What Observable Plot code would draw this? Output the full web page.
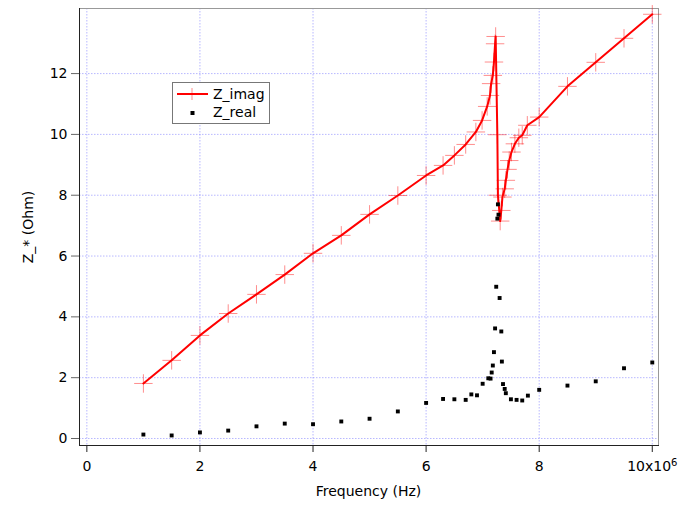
<!DOCTYPE html>
<html>
<head>
<meta charset="utf-8">
<script src="https://cdn.jsdelivr.net/npm/d3@7"></script>
<script src="https://cdn.jsdelivr.net/npm/@observablehq/plot@0.6"></script>
<style>
  html, body { margin: 0; padding: 0; background: white; }
  #chart { width: 678px; height: 506px; }
</style>
</head>
<body>
<div id="chart"></div>
<script>
// Frequencies in units of 10^6 Hz
const imagFreq = [1, 1.5, 2, 2.5, 3, 3.5, 4, 4.5, 5, 5.5, 6, 6.3, 6.5, 6.7, 6.88, 6.99, 7.08, 7.13, 7.15, 7.18, 7.2, 7.22, 7.23, 7.26, 7.27, 7.31, 7.33, 7.35, 7.39, 7.41, 7.44, 7.47, 7.51, 7.57, 7.64, 7.7, 7.79, 8.0, 8.5, 9, 9.5, 10];
const imagVal  = [1.81, 2.57, 3.39, 4.11, 4.74, 5.39, 6.09, 6.68, 7.37, 7.99, 8.65, 8.98, 9.31, 9.67, 10.08, 10.46, 10.92, 11.28, 11.67, 11.94, 12.38, 12.98, 13.22, 9.99, 8.0, 7.15, 7.5, 7.94, 8.21, 8.49, 8.85, 9.14, 9.42, 9.69, 9.89, 9.97, 10.3, 10.57, 11.58, 12.37, 13.16, 13.95];

const realFreq = [1, 1.5, 2, 2.5, 3, 3.5, 4, 4.5, 5, 5.5, 6, 6.3, 6.5, 6.7, 6.8, 6.9, 7.0, 7.1, 7.14, 7.16, 7.18, 7.2, 7.22, 7.24, 7.26, 7.27, 7.28, 7.3, 7.33, 7.34, 7.36, 7.39, 7.41, 7.5, 7.6, 7.7, 7.8, 8, 8.5, 9, 9.5, 10];
const realVal  = [0.13, 0.10, 0.20, 0.26, 0.40, 0.49, 0.47, 0.56, 0.65, 0.89, 1.17, 1.30, 1.29, 1.27, 1.45, 1.42, 1.80, 1.98, 1.97, 2.17, 2.40, 2.84, 3.62, 4.99, 7.23, 7.7, 7.36, 4.62, 3.52, 2.53, 1.79, 1.63, 1.49, 1.29, 1.27, 1.25, 1.41, 1.60, 1.74, 1.88, 2.31, 2.50];

const xTicks = [0, 2, 4, 6, 8, 10];
const yTicks = [0, 2, 4, 6, 8, 10, 12];
const seriesNames = ["Z_imag", "Z_real"];
const xLabel = "Frequency (Hz)";
const yLabel = "Z_* (Ohm)";

const imag = imagFreq.map((f, i) => ({f, v: imagVal[i]}));
const real = realFreq.map((f, i) => ({f, v: realVal[i]}));

const gridStyle = {stroke: "#8888ff", strokeOpacity: 0.6, strokeDasharray: "1.5,1.5", strokeWidth: 1};

const chart = Plot.plot({
  width: 678,
  height: 506,
  marginLeft: 79,
  marginRight: 20,
  marginTop: 8,
  marginBottom: 61,
  style: {fontFamily: "DejaVu Sans", fontSize: "14px", color: "black", background: "white"},
  x: {domain: [-0.13, 10.11]},
  y: {domain: [-0.23, 14.14]},
  marks: [
    Plot.gridX(xTicks, gridStyle),
    Plot.gridY(yTicks, gridStyle),
    Plot.frame({stroke: "#999"}),
    Plot.frame({anchor: "left", stroke: "#222"}),
    Plot.frame({anchor: "bottom", stroke: "#222"}),
    Plot.axisX({ticks: xTicks, tickSize: 7, tickPadding: 9, label: null, stroke: "#222",
      tickFormat: d => d === 10 ? "10x10" : String(d)}),
    Plot.axisY({ticks: yTicks, tickSize: 8, tickPadding: 4, label: null, stroke: "#666"}),
    Plot.line(imag, {x: "f", y: "v", stroke: "red", strokeWidth: 2}),
    Plot.dot(imag, {x: "f", y: "v", symbol: "plus", r: 6, stroke: "red", strokeOpacity: 0.45, strokeWidth: 1}),
    Plot.dot(real, {x: "f", y: "v", symbol: "square", r: 2.2, fill: "black", stroke: "none"})
  ]
});

document.getElementById("chart").appendChild(chart);

const svg = d3.select(chart);
// superscript for the 10x10^6 tick
svg.selectAll("text").filter(function() { return this.textContent === "10x10"; })
  .each(function() {
    const t = d3.select(this);
    t.append("tspan").attr("dy", "-0.55em").attr("font-size", "10px").text("6");
  });

// axis titles
svg.append("text").attr("x", 368.5).attr("y", 496).attr("text-anchor", "middle")
  .attr("font-family", "DejaVu Sans").attr("font-size", "14px").attr("fill", "black").text(xLabel);
svg.append("text").attr("transform", "translate(33,227) rotate(-90)").attr("text-anchor", "middle")
  .attr("font-family", "DejaVu Sans").attr("font-size", "14px").attr("fill", "black").text(yLabel);

// legend
const lg = svg.append("g").attr("font-family", "DejaVu Sans").attr("font-size", "14px").attr("text-anchor", "start");
lg.append("rect").attr("x", 172.5).attr("y", 82.5).attr("width", 97).attr("height", 41)
  .attr("fill", "white").attr("stroke", "#777").attr("stroke-width", 1);
lg.append("line").attr("x1", 177).attr("x2", 208).attr("y1", 94).attr("y2", 94).attr("stroke", "red").attr("stroke-width", 2);
lg.append("line").attr("x1", 192).attr("x2", 192).attr("y1", 88).attr("y2", 100).attr("stroke", "red").attr("stroke-opacity", 0.45);
lg.append("rect").attr("x", 190.5).attr("y", 111).attr("width", 4).attr("height", 4).attr("fill", "black");
lg.append("text").attr("x", 213).attr("y", 99).attr("text-anchor", "start").text(seriesNames[0]);
lg.append("text").attr("x", 213).attr("y", 117).attr("text-anchor", "start").text(seriesNames[1]);
</script>
</body>
</html>
